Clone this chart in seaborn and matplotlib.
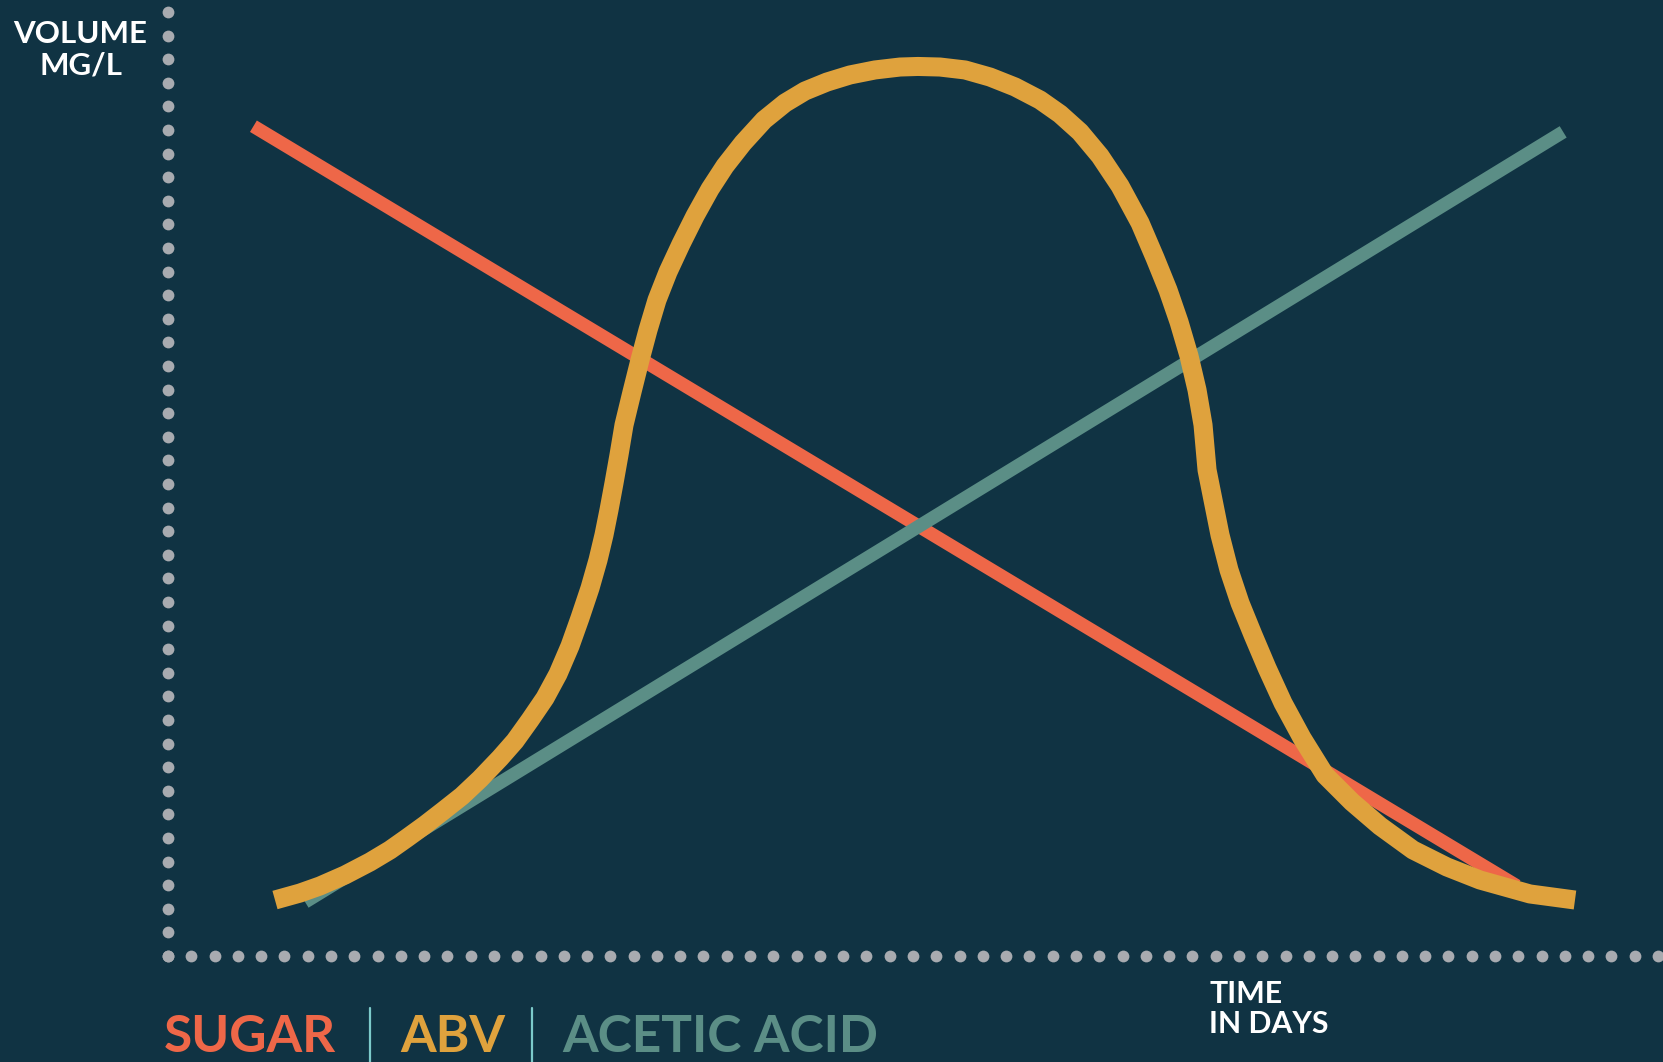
import numpy as np
import pandas as pd
import seaborn as sns
import matplotlib.pyplot as plt
from matplotlib.lines import Line2D

# ---- data (days, volume mg/L, arbitrary scale 0-100) ----
sugar_days = [1.72, 27.16]
sugar_vol = [87.9, 7.42]

acetic_days = [2.76, 28.09]
acetic_vol = [5.72, 87.3]

abv_days = [2.154, 2.658, 3.060, 3.564, 4.067, 4.470, 4.812, 5.174, 5.537, 5.919,
            6.282, 6.685, 6.987, 7.289, 7.591, 7.852, 8.094, 8.295, 8.497, 8.658,
            8.778, 8.879, 8.980, 9.080, 9.181, 9.342, 9.503, 9.664, 9.845, 10.067,
            10.329, 10.611, 10.913, 11.215, 11.577, 12.000, 12.423, 12.825, 13.268,
            13.731, 14.235, 14.738, 15.100,
            15.543, 16.047, 16.550, 17.053, 17.557, 17.960, 18.362, 18.765, 19.168,
            19.571, 19.873, 20.134, 20.356, 20.557, 20.718, 20.839, 20.920,
            21.040, 21.181, 21.362, 21.584, 21.846, 22.127, 22.450, 22.832, 23.295,
            23.839, 24.402, 25.067, 25.751, 26.416, 27.422, 28.328]
abv_vol = [5.93, 6.67, 7.42, 8.58, 9.96, 11.23, 12.50, 13.88, 15.36, 16.95,
           18.75, 20.97, 22.78, 25.00, 27.33, 29.87, 32.84, 35.81, 38.98, 41.95,
           44.60, 47.25, 50.11, 53.07, 56.25, 59.75, 63.14, 66.31, 69.49, 72.46,
           75.42, 78.39, 81.25, 83.69, 86.12, 88.56, 90.36, 91.63, 92.58,
           93.33, 93.86, 94.17, 94.23,
           94.17, 93.86, 93.11, 92.06, 90.68, 89.19, 87.29, 84.75, 81.57,
           77.65, 73.94, 70.55, 67.16, 63.56, 59.96, 56.25, 51.48,
           48.31, 44.60, 40.89, 37.39, 34.00, 30.51, 26.80, 23.09, 19.17,
           16.31, 13.77, 11.23, 9.43, 8.05, 6.57, 5.93]

legend_labels = ["SUGAR", "ABV", "ACETIC ACID"]
y_label = ["VOLUME", "MG/L"]
x_label = ["TIME", "IN DAYS"]

BG = "#103343"
C_SUGAR = "#ee6748"
C_ABV = "#dfa23d"
C_ACETIC = "#5b8e86"
C_DOT = "#a8abb0"

sns.set_theme(style="white")
plt.rcParams['font.family'] = ['Lato', 'DejaVu Sans']

W, H = 1663, 1062
fig = plt.figure(figsize=(W / 100, H / 100), dpi=100, facecolor=BG)
ax = fig.add_axes([168 / W, (H - 956) / H, 1 - 168 / W, 956 / H])
ax.set_facecolor(BG)
ax.set_xlim(0, 30.1)
ax.set_ylim(0, 101.27)
for s in ax.spines.values():
    s.set_visible(False)
ax.set_xticks([])
ax.set_yticks([])

# dotted axes
xd = np.linspace(0, 30, 65)
yd = np.linspace(0, 100, 41)
ax.scatter(xd, np.zeros_like(xd), s=72, color=C_DOT, linewidths=0, clip_on=False, zorder=1)
ax.scatter(np.zeros_like(yd), yd, s=72, color=C_DOT, linewidths=0, clip_on=False, zorder=1)

df_s = pd.DataFrame({"day": sugar_days, "vol": sugar_vol})
df_a = pd.DataFrame({"day": acetic_days, "vol": acetic_vol})
df_b = pd.DataFrame({"day": abv_days, "vol": abv_vol})

sns.lineplot(data=df_s, x="day", y="vol", ax=ax, color=C_SUGAR, linewidth=9.6,
             sort=False, solid_capstyle='butt', zorder=2)
sns.lineplot(data=df_a, x="day", y="vol", ax=ax, color=C_ACETIC, linewidth=9.6,
             sort=False, solid_capstyle='butt', zorder=3)
sns.lineplot(data=df_b, x="day", y="vol", ax=ax, color=C_ABV, linewidth=13.7,
             sort=False, solid_capstyle='butt', solid_joinstyle='round', zorder=4)
ax.set_xlabel("")
ax.set_ylabel("")

# axis labels
fig.text(80 / W, 1 - 43 / H, y_label[0], color="white", fontsize=22.5,
         fontweight='bold', ha='center', va='baseline')
fig.text(81 / W, 1 - 75 / H, y_label[1], color="white", fontsize=22.5,
         fontweight='bold', ha='center', va='baseline')
fig.text(1209 / W, 1 - 1003 / H, x_label[0], color="white", fontsize=21.8,
         fontweight='bold', ha='left', va='baseline')
fig.text(1209 / W, 1 - 1033 / H, x_label[1], color="white", fontsize=21.8,
         fontweight='bold', ha='left', va='baseline')

# legend
leg_x = [164, 400, 562]
leg_c = [C_SUGAR, C_ABV, C_ACETIC]
for lx, lab, c in zip(leg_x, legend_labels, leg_c):
    fig.text(lx / W, 1 - 1052 / H, lab, color=c, fontsize=37,
             fontweight='bold', ha='left', va='baseline')
for sx in [370, 532]:
    fig.add_artist(Line2D([sx / W, sx / W], [0, 1 - 1008 / H], color="#7ccaca",
                          linewidth=1.6, transform=fig.transFigure))

fig.savefig("out.png", dpi=100, facecolor=BG)
